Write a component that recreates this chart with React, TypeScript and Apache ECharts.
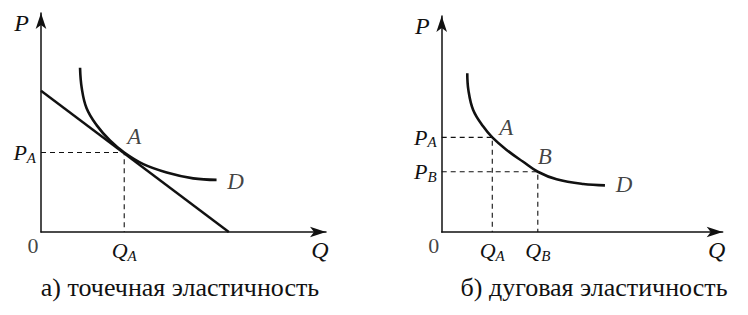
import React, { useEffect, useRef } from "react";
import * as echarts from "echarts";

// Left panel: point elasticity — demand curve D and its tangent at A
const curveLeftQ = [1.37, 1.43, 1.6, 1.95, 2.42, 2.92, 3.59, 4.41, 5.34, 6.16];
const curveLeftP = [7.5, 6.57, 5.65, 4.88, 4.18, 3.63, 3.1, 2.72, 2.45, 2.38];
const tangentQ = [0, 6.59];
const tangentP = [6.45, 0];
const pointA1 = { q: 2.92, p: 3.63 };

// Right panel: arc elasticity — demand curve D between A and B
const curveRightQ = [0.91, 0.95, 1.12, 1.48, 1.8, 2.31, 2.9, 3.42, 4.09, 5.04, 5.81];
const curveRightP = [7.35, 6.57, 5.65, 4.88, 4.38, 3.8, 3.25, 2.79, 2.44, 2.22, 2.16];
const pointA2 = { q: 1.8, p: 4.38 };
const pointB2 = { q: 3.42, p: 2.79 };

const captions = ["а) точечная эластичность", "б) дуговая эластичность"];

const SERIF = "Liberation Serif";
const INK = "#111";

const zip = (xs: number[], ys: number[]) => xs.map((x, i) => [x, ys[i]]);

const rich = {
  i: { fontFamily: SERIF, fontStyle: "italic", fontSize: 22, color: INK },
  s: { fontFamily: SERIF, fontStyle: "italic", fontSize: 15, color: INK, padding: [10, 0, 0, 0] },
};

const subLabel = (main: string, sub: string) => `{i|${main}}{s|${sub}}`;

function axes(gridIndex: number, ticks: { q: number[]; qs: string[]; p: number[]; ps: string[] }) {
  const line = {
    show: true,
    symbol: ["none", "arrow"],
    symbolSize: [8, 16],
    lineStyle: { color: INK, width: 1.5 },
  };
  const xAxis = {
    type: "value",
    gridIndex,
    min: 0,
    max: 10,
    splitLine: { show: false },
    axisTick: { show: false },
    axisLine: line,
    name: "Q",
    nameLocation: "end",
    nameGap: -6,
    nameTextStyle: {
      fontFamily: SERIF,
      fontStyle: "italic",
      fontSize: 24,
      color: INK,
      align: "center",
      verticalAlign: "top",
      padding: [6, 0, 0, 0],
    },
    axisLabel: {
      show: true,
      customValues: ticks.q,
      margin: 6,
      formatter: (v: number) => {
        const k = ticks.q.findIndex((t) => Math.abs(t - v) < 1e-6);
        return k >= 0 ? subLabel("Q", ticks.qs[k]) : "";
      },
      rich,
    },
  };
  const yAxis = {
    type: "value",
    gridIndex,
    min: 0,
    max: 10,
    splitLine: { show: false },
    axisTick: { show: false },
    axisLine: line,
    name: "P",
    nameLocation: "end",
    nameGap: 2,
    nameTextStyle: {
      fontFamily: SERIF,
      fontStyle: "italic",
      fontSize: 24,
      color: INK,
      align: "right",
      verticalAlign: "top",
      padding: [0, 12, 0, 0],
    },
    axisLabel: {
      show: true,
      customValues: ticks.p,
      margin: 5,
      formatter: (v: number) => {
        const k = ticks.p.findIndex((t) => Math.abs(t - v) < 1e-6);
        return k >= 0 ? subLabel("P", ticks.ps[k]) : "";
      },
      rich,
    },
  };
  return { xAxis, yAxis };
}

const pointLabel = (text: string, offset: number[], italic = true) => ({
  show: true,
  formatter: text,
  position: offset,
  align: "center",
  verticalAlign: "middle",
  fontFamily: SERIF,
  fontStyle: italic ? "italic" : "normal",
  fontWeight: "normal",
  fontSize: italic ? 23 : 22,
  color: INK,
});

export default function App() {
  const ref = useRef<HTMLDivElement>(null);

  useEffect(() => {
    if (!ref.current) return;
    const chart = echarts.init(ref.current, null, { renderer: "svg" });

    const left = axes(0, { q: [pointA1.q], qs: ["A"], p: [pointA1.p], ps: ["A"] });
    const right = axes(1, {
      q: [pointA2.q, pointB2.q],
      qs: ["A", "B"],
      p: [pointA2.p, pointB2.p],
      ps: ["A", "B"],
    });

    const dashed = { color: INK, width: 1.1, type: [5, 4] as number[] };
    const solid = (w: number) => ({ color: INK, width: w });

    const lastL = curveLeftQ.length - 1;
    const lastR = curveRightQ.length - 1;

    const captionStyle = {
      fontFamily: SERIF,
      fontWeight: "normal",
      fontSize: 26,
      color: INK,
    };

    chart.setOption({
      animation: false,
      backgroundColor: "#fff",
      textStyle: { fontFamily: SERIF },
      grid: [
        { left: 41, top: 13, width: 285, height: 219 },
        { left: 441.7, top: 16, width: 281, height: 216 },
      ],
      xAxis: [left.xAxis, right.xAxis],
      yAxis: [left.yAxis, right.yAxis],
      title: [
        { text: captions[0], left: 175, top: 269, textAlign: "center", textStyle: captionStyle },
        { text: captions[1], left: 589, top: 269, textAlign: "center", textStyle: captionStyle },
      ],
      series: [
        // left panel
        {
          type: "line",
          xAxisIndex: 0,
          yAxisIndex: 0,
          data: [
            [0, pointA1.p],
            [pointA1.q, pointA1.p],
            [pointA1.q, 0],
          ],
          showSymbol: false,
          lineStyle: dashed,
          z: 1,
        },
        {
          type: "line",
          xAxisIndex: 0,
          yAxisIndex: 0,
          data: zip(tangentQ, tangentP),
          showSymbol: false,
          lineStyle: solid(2.4),
          z: 2,
        },
        {
          type: "line",
          xAxisIndex: 0,
          yAxisIndex: 0,
          data: zip(curveLeftQ, curveLeftP),
          smooth: 0.4,
          showSymbol: false,
          lineStyle: solid(2.6),
          z: 3,
        },
        {
          type: "scatter",
          xAxisIndex: 0,
          yAxisIndex: 0,
          symbolSize: 0,
          data: [
            { value: [pointA1.q, pointA1.p], label: pointLabel("A", [10, -16]) },
            { value: [curveLeftQ[lastL], curveLeftP[lastL]], label: pointLabel("D", [19, 2]) },
            { value: [0, 0], label: pointLabel("0", [-8, 13], false) },
          ],
          z: 4,
        },
        // right panel
        {
          type: "line",
          xAxisIndex: 1,
          yAxisIndex: 1,
          data: [
            [0, pointA2.p],
            [pointA2.q, pointA2.p],
            [pointA2.q, 0],
          ],
          showSymbol: false,
          lineStyle: dashed,
          z: 1,
        },
        {
          type: "line",
          xAxisIndex: 1,
          yAxisIndex: 1,
          data: [
            [0, pointB2.p],
            [pointB2.q, pointB2.p],
            [pointB2.q, 0],
          ],
          showSymbol: false,
          lineStyle: dashed,
          z: 1,
        },
        {
          type: "line",
          xAxisIndex: 1,
          yAxisIndex: 1,
          data: zip(curveRightQ, curveRightP),
          smooth: 0.4,
          showSymbol: false,
          lineStyle: solid(2.6),
          z: 3,
        },
        {
          type: "scatter",
          xAxisIndex: 1,
          yAxisIndex: 1,
          symbolSize: 0,
          data: [
            { value: [pointA2.q, pointA2.p], label: pointLabel("A", [14, -10]) },
            { value: [pointB2.q, pointB2.p], label: pointLabel("B", [7, -15]) },
            { value: [curveRightQ[lastR], curveRightP[lastR]], label: pointLabel("D", [19, -1]) },
            { value: [0, 0], label: pointLabel("0", [-8, 13], false) },
          ],
          z: 4,
        },
      ],
    });

    return () => chart.dispose();
  }, []);

  return (
    <div
      ref={ref}
      style={{ position: "fixed", left: 0, top: 0, width: 748, height: 315, background: "#fff" }}
    />
  );
}
